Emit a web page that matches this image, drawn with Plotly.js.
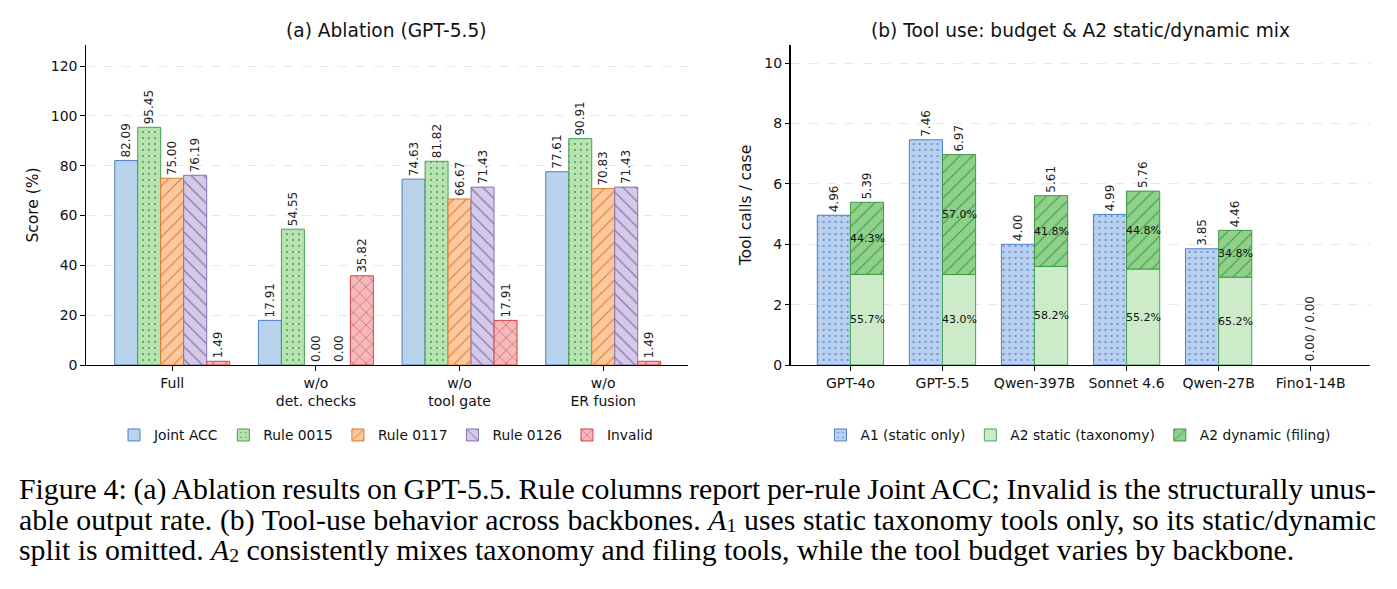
<!DOCTYPE html>
<html>
<head>
<meta charset="utf-8">
<script src="https://cdn.plot.ly/plotly-3.0.1.min.js"></script>
<style>
  html, body { margin: 0; padding: 0; background: #ffffff; }
  #wrap { position: relative; width: 1397px; height: 589px; overflow: hidden; background: #fff; }
  #chart { position: absolute; left: 0; top: 0; width: 1397px; height: 589px; }
  #cap { position: absolute; left: 19px; top: 474px; width: 1357px;
         font-family: "Liberation Serif", "Times New Roman", Times, serif; font-size: 29.8px;
         line-height: 30.5px; color: #000; }
  #cap div { white-space: nowrap; height: 30.5px; }
  #cap .j { white-space: normal; text-align: justify; text-align-last: justify; word-spacing: -4px; }
  #cap sub { font-size: 66%; line-height: 0; vertical-align: -0.1em; }
</style>
</head>
<body>
<div id="wrap">
  <div id="chart"></div>
  <div id="cap">
    <div class="j">Figure 4: (a) Ablation results on GPT-5.5. Rule columns report per-rule Joint ACC; Invalid is the structurally unus-</div>
    <div class="j">able output rate. (b) Tool-use behavior across backbones. <i>A</i><sub>1</sub> uses static taxonomy tools only, so its static/dynamic</div>
    <div>split is omitted. <i>A</i><sub>2</sub> consistently mixes taxonomy and filing tools, while the tool budget varies by backbone.</div>
  </div>
</div>
<script>
// ---------- Panel (a): ablation ----------
const ablationGroups = ['Full', 'w/o<br>det. checks', 'w/o<br>tool gate', 'w/o<br>ER fusion'];
const seriesNames = ['Joint ACC', 'Rule 0015', 'Rule 0117', 'Rule 0126', 'Invalid'];
const jointAcc = [82.09, 17.91, 74.63, 77.61];
const rule0015 = [95.45, 54.55, 81.82, 90.91];
const rule0117 = [75.00, 0.00, 66.67, 70.83];
const rule0126 = [76.19, 0.00, 71.43, 71.43];
const invalid  = [1.49, 35.82, 17.91, 1.49];

// ---------- Panel (b): tool use ----------
const backbones = ['GPT-4o', 'GPT-5.5', 'Qwen-397B', 'Sonnet 4.6', 'Qwen-27B', 'Fino1-14B'];
const a1Calls = [4.96, 7.46, 4.00, 4.99, 3.85, 0.00];
const a2Calls = [5.39, 6.97, 5.61, 5.76, 4.46, 0.00];
const a2StaticPct = [55.7, 43.0, 58.2, 55.2, 65.2, 0];
const a2DynamicPct = [44.3, 57.0, 41.8, 44.8, 34.8, 0];

const tickLabels = {
  a: ['0', '20', '40', '60', '80', '100', '120'],
  b: ['0', '2', '4', '6', '8', '10']
};

const FONT = 'DejaVu Sans, sans-serif';
const W = 1397, H = 589;

// styles (not data)
const styleA = [
  {fill: '#b9d3ec', line: '#4f7fc4', shape: ''},
  {fill: '#b6e3b1', line: '#45a156', shape: '.', fg: '#3f9a4c'},
  {fill: '#fbc99d', line: '#e07b30', shape: '/', fg: '#e07b30'},
  {fill: '#d4cae7', line: '#8470b6', shape: '\\', fg: '#7a63ad'},
  {fill: '#f4b9bb', line: '#d0454a', shape: 'x', fg: '#d0454a'}
];
const seriesA = [jointAcc, rule0015, rule0117, rule0126, invalid];
const barW = 0.16;
const edgeW = vals => vals.map(v => v > 0 ? 1 : 0);

const traces = [];
seriesA.forEach((vals, k) => {
  const st = styleA[k];
  const marker = {color: st.fill, line: {color: st.line, width: edgeW(vals)}};
  if (st.shape) marker.pattern = {shape: st.shape, fgcolor: st.fg, bgcolor: st.fill,
                                  size: st.shape === '.' ? 6 : 9, solidity: st.shape === '.' ? 0.08 : 0.12};
  traces.push({
    type: 'bar', name: seriesNames[k], x: ablationGroups, y: vals,
    xaxis: 'x', yaxis: 'y', legend: 'legend',
    width: barW, offset: -0.4 + k * barW,
    marker: marker,
    text: vals.map(v => v.toFixed(2)), textposition: 'outside', textangle: -90,
    textfont: {family: FONT, size: 12, color: '#222'},
    constraintext: 'none', cliponaxis: false, hoverinfo: 'x+y'
  });
});

const a2Static = a2Calls.map((t, i) => t * a2StaticPct[i] / 100);
const a2Dynamic = a2Calls.map((t, i) => t - a2Static[i]);
const bW = 0.36;
const nb = backbones.length;

traces.push({
  type: 'bar', name: 'A1 (static only)', x: backbones, y: a1Calls,
  xaxis: 'x2', yaxis: 'y2', legend: 'legend2',
  width: bW, offset: -bW,
  marker: {color: '#b9d0ee', line: {color: '#4f7fcc', width: edgeW(a1Calls)},
           pattern: {shape: '.', fgcolor: '#4f7fcc', bgcolor: '#b9d0ee', size: 6, solidity: 0.08}},
  text: a1Calls.map((v, i) => v > 0 ? v.toFixed(2) : ''), textposition: 'outside', textangle: -90,
  textfont: {family: FONT, size: 12, color: '#222'}, constraintext: 'none', cliponaxis: false
});
traces.push({
  type: 'bar', name: 'A2 static (taxonomy)', x: backbones, y: a2Static,
  xaxis: 'x2', yaxis: 'y2', legend: 'legend2',
  width: bW, offset: 0,
  marker: {color: '#cdebc8', line: {color: '#4aa55a', width: edgeW(a2Static)}},
  hoverinfo: 'x+y'
});
traces.push({
  type: 'bar', name: 'A2 dynamic (filing)', x: backbones, y: a2Dynamic, base: a2Static,
  xaxis: 'x2', yaxis: 'y2', legend: 'legend2',
  width: bW, offset: 0,
  marker: {color: '#8fd08a', line: {color: '#3f9a45', width: edgeW(a2Dynamic)},
           pattern: {shape: '/', fgcolor: '#3f9a45', bgcolor: '#8fd08a', size: 9, solidity: 0.12}},
  text: a2Calls.map((v, i) => v > 0 ? v.toFixed(2) : ''), textposition: 'outside', textangle: -90,
  textfont: {family: FONT, size: 12, color: '#222'}, constraintext: 'none', cliponaxis: false
});

const annotations = [];
for (let i = 0; i < nb; i++) {
  if (a2Calls[i] > 0) {
    annotations.push({xref: 'x2', yref: 'y2', x: i + bW / 2, y: a2Static[i] / 2,
      text: a2StaticPct[i].toFixed(1) + '%', showarrow: false,
      font: {family: FONT, size: 11, color: '#111'}});
    annotations.push({xref: 'x2', yref: 'y2', x: i + bW / 2, y: a2Static[i] + a2Dynamic[i] / 2,
      text: a2DynamicPct[i].toFixed(1) + '%', showarrow: false,
      font: {family: FONT, size: 11, color: '#111'}});
  } else {
    annotations.push({xref: 'x2', yref: 'y2', x: backbones[i], y: 0, yanchor: 'bottom', yshift: 2,
      text: a1Calls[i].toFixed(2) + ' / ' + a2Calls[i].toFixed(2), textangle: -90, showarrow: false,
      font: {family: FONT, size: 12, color: '#222'}});
  }
}
// panel titles
annotations.push({xref: 'paper', yref: 'paper', x: 386 / W, y: 1 - 31 / H, xanchor: 'center', yanchor: 'middle',
  text: '(a) Ablation (GPT-5.5)', showarrow: false, font: {family: FONT, size: 18.6, color: '#111'}});
annotations.push({xref: 'paper', yref: 'paper', x: 1080 / W, y: 1 - 31 / H, xanchor: 'center', yanchor: 'middle',
  text: '(b) Tool use: budget &amp; A2 static/dynamic mix', showarrow: false, font: {family: FONT, size: 18.6, color: '#111'}});

const yTop = 1 - 45 / H, yBot = 1 - 365 / H;
const axisCommon = {
  showline: true, linecolor: '#000', linewidth: 1.2, ticks: 'outside', ticklen: 4.5, tickwidth: 1,
  tickcolor: '#000', tickfont: {family: FONT, size: 14, color: '#111'}, zeroline: false, fixedrange: true
};

const layout = {
  width: W, height: H,
  margin: {l: 0, r: 0, t: 0, b: 0},
  paper_bgcolor: '#fff', plot_bgcolor: '#fff',
  barmode: 'overlay',
  font: {family: FONT, color: '#111'},
  showlegend: true,
  xaxis: Object.assign({}, axisCommon, {domain: [86 / W, 688 / W], range: [-0.6, 3.59], type: 'category',
    anchor: 'y', showgrid: false}),
  yaxis: Object.assign({}, axisCommon, {domain: [yBot, yTop], range: [0, 128.5], anchor: 'x',
    tickvals: tickLabels.a.map(Number), ticktext: tickLabels.a,
    showgrid: true, gridcolor: '#e2e2e2', griddash: 'dash', gridwidth: 0.8,
    title: {text: 'Score (%)', font: {family: FONT, size: 15.5, color: '#111'}, standoff: 8}}),
  xaxis2: Object.assign({}, axisCommon, {domain: [790.6 / W, 1369.6 / W], range: [-0.65, 5.64], type: 'category',
    anchor: 'y2', showgrid: false}),
  yaxis2: Object.assign({}, axisCommon, {domain: [yBot, yTop], range: [0, 10.6], anchor: 'x2',
    tickvals: tickLabels.b.map(Number), ticktext: tickLabels.b,
    showgrid: true, gridcolor: '#e2e2e2', griddash: 'dash', gridwidth: 0.8,
    title: {text: 'Tool calls / case', font: {family: FONT, size: 15.5, color: '#111'}, standoff: 8}}),
  legend: {orientation: 'h', x: 386 / W, xanchor: 'center', y: 1 - 435 / H, yanchor: 'middle',
    font: {family: FONT, size: 13.8, color: '#111'}, bgcolor: 'rgba(0,0,0,0)', itemwidth: 30, tracegroupgap: 0},
  legend2: {orientation: 'h', x: 1078 / W, xanchor: 'center', y: 1 - 435 / H, yanchor: 'middle',
    font: {family: FONT, size: 13.8, color: '#111'}, bgcolor: 'rgba(0,0,0,0)', itemwidth: 30, tracegroupgap: 0},
  annotations: annotations
};

Plotly.newPlot('chart', traces, layout, {staticPlot: true, displayModeBar: false});
</script>
</body>
</html>
